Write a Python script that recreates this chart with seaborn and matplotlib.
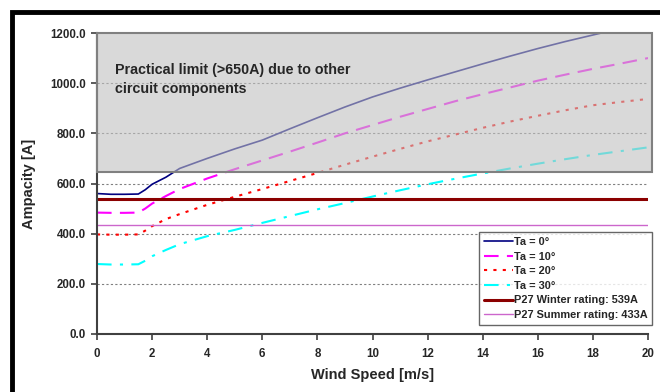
#importing libraries
import matplotlib
matplotlib.use("Agg")
import pandas as pd
import matplotlib.pyplot as plt
import matplotlib.patches as patches
import seaborn as sns

#Data
wind = [0, 0.5, 1, 1.5, 1.75, 2, 2.5, 3, 4, 5, 6, 7, 8, 9, 10, 11, 12, 13, 14, 15, 16, 17, 18, 19, 20]
ta0 = [560, 557, 557, 558, 575, 597, 625, 660, 700, 738, 773, 818, 862, 905, 945, 980, 1013, 1045, 1077, 1108, 1138, 1166, 1192, 1218, 1243]
ta10 = [484, 483, 483, 484, 500, 520, 550, 578, 620, 657, 692, 727, 763, 800, 833, 866, 897, 928, 956, 983, 1010, 1034, 1057, 1078, 1100]
ta20 = [397, 396, 396, 397, 412, 430, 458, 478, 515, 547, 578, 610, 642, 675, 707, 738, 768, 795, 822, 847, 870, 892, 912, 925, 937]
ta30 = [279, 277, 277, 278, 292, 310, 335, 358, 390, 415, 443, 470, 497, 522, 548, 573, 597, 619, 640, 660, 679, 697, 714, 729, 744]
winter_rating = 539
summer_rating = 433
practical_limit = 645
y_ticks = [0, 200, 400, 600, 800, 1000, 1200]
x_ticks = [0, 2, 4, 6, 8, 10, 12, 14, 16, 18, 20]

df = pd.DataFrame({'wind': wind, 'Ta = 0°': ta0, 'Ta = 10°': ta10,
                   'Ta = 20°': ta20, 'Ta = 30°': ta30})

sns.set_style("white")
plt.rcParams['font.family'] = ['Liberation Sans', 'DejaVu Sans']
plt.rcParams['font.weight'] = 'bold'

fig = plt.figure(figsize=(6.6, 3.92), dpi=100)
ax = fig.add_axes([97/660, 58/392, 551/660, 301/392])

#curves
sns.lineplot(data=df, x='wind', y='Ta = 0°', ax=ax, color='#000080', lw=1.2, label='Ta = 0°')
sns.lineplot(data=df, x='wind', y='Ta = 10°', ax=ax, color='#FF00FF', lw=1.5, label='Ta = 10°')
ax.lines[-1].set_dashes([7, 4])
sns.lineplot(data=df, x='wind', y='Ta = 20°', ax=ax, color='#FF0000', lw=1.5, label='Ta = 20°')
ax.lines[-1].set_dashes([1.5, 3])
sns.lineplot(data=df, x='wind', y='Ta = 30°', ax=ax, color='#00FFFF', lw=1.5, label='Ta = 30°')
ax.lines[-1].set_dashes([7, 4, 1.5, 4])

#ratings
ax.axhline(winter_rating, color='#8B0000', lw=2.2, label='P27 Winter rating: 539A')
ax.axhline(summer_rating, color='#CC66CC', lw=1.0, label='P27 Summer rating: 433A')

#practical limit box
ax.add_patch(patches.Rectangle((0, practical_limit), 20.15, 1200 - practical_limit,
                               facecolor='#C0C0C0', alpha=0.6, edgecolor='none', zorder=5, clip_on=False))
ax.add_patch(patches.Rectangle((0, practical_limit), 20.15, 1200 - practical_limit,
                               facecolor='none', edgecolor='#808080', lw=1.5, zorder=6, clip_on=False))
ax.text(0.65, 1082, 'Practical limit (>650A) due to other\ncircuit components', fontsize=10.3,
        fontweight='bold', va='top', ha='left', zorder=7, linespacing=1.45)

#grid
for v in y_ticks[1:-1]:
    ax.axhline(v, color='#808080', lw=0.8, ls=(0, (2, 2)), zorder=0)

ax.set_xlim(0, 20)
ax.set_ylim(0, 1200)
ax.set_xticks(x_ticks)
ax.set_yticks(y_ticks)
ax.set_xticklabels([str(t) for t in x_ticks], fontsize=8.3, fontweight='bold')
ax.set_yticklabels(['%.1f' % t for t in y_ticks], fontsize=8.3, fontweight='bold')
ax.tick_params(axis='both', direction='out', length=4, width=1.2, color='#404040', bottom=True, left=True)
ax.tick_params(axis='x', pad=6)
ax.tick_params(axis='y', pad=4)
for s in ['top', 'right']:
    ax.spines[s].set_visible(False)
for s in ['left', 'bottom']:
    ax.spines[s].set_color('#404040')
    ax.spines[s].set_linewidth(1.5)

ax.set_xlabel('Wind Speed [m/s]', fontsize=10.5, fontweight='bold', labelpad=6)
ax.set_ylabel('Ampacity [A]', fontsize=10.5, fontweight='bold', labelpad=10)

leg = ax.legend(loc='lower right', bbox_to_anchor=(1.008, 0.03), fontsize=7.9, handlelength=2.6,
                frameon=True, fancybox=False, borderpad=0.45, labelspacing=0.42, handletextpad=0.1,
                borderaxespad=0)
leg.get_frame().set_edgecolor('#404040')
leg.get_frame().set_linewidth(1.0)
leg.set_zorder(10)
for t in leg.get_texts():
    t.set_fontweight('bold')

#outer frame
fig.patches.append(patches.Rectangle((12/660, -0.1), 1.2, 1.1 - 12/392,
                                     transform=fig.transFigure, fill=False, edgecolor='black', lw=3.5))

plt.savefig('out.png', dpi=100)
